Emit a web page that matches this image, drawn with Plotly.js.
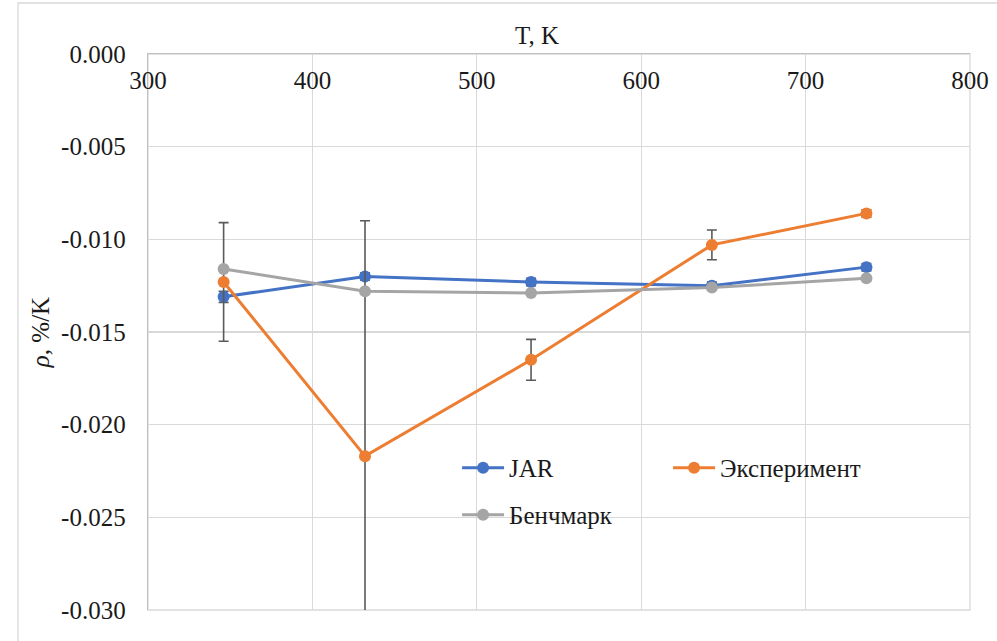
<!DOCTYPE html>
<html>
<head>
<meta charset="utf-8">
<script src="https://cdn.plot.ly/plotly-3.0.1.min.js"></script>
<style>
  html, body { margin: 0; padding: 0; background: #ffffff; }
  #chart { width: 997px; height: 641px; }
</style>
</head>
<body>
<div id="chart"></div>
<script>
// Temperature points, K
const temperatures = [346, 432, 533, 643, 737];

// Temperature coefficient ρ, %/K
const jarValues = [-0.0131, -0.0120, -0.0123, -0.0125, -0.0115];
const jarErrors = [0.0003, 0.0002, 0.0002, 0.0002, 0.0002];

const experimentValues = [-0.0123, -0.0217, -0.0165, -0.0103, -0.0086];
const experimentErrors = [0.0032, 0.0127, 0.0011, 0.0008, 0.0002];

const benchmarkValues = [-0.0116, -0.0128, -0.0129, -0.0126, -0.0121];

const seriesNames = ['JAR', 'Эксперимент', 'Бенчмарк'];
const seriesColors = ['#4472C4', '#ED7D31', '#A5A5A5'];

const xTicks = [300, 400, 500, 600, 700, 800];
const yTicks = [0, -0.005, -0.010, -0.015, -0.020, -0.025, -0.030];

const FONT = 'Liberation Serif';
const FONT_SIZE = 25;
const TEXT_COLOR = '#1a1a1a';
const ERR_COLOR = '#5a5a5a';

function series(name, color, values, errors, legend) {
  const t = {
    type: 'scatter',
    mode: 'lines+markers',
    name: name,
    x: temperatures,
    y: values,
    legend: legend,
    line: { color: color, width: 3 },
    marker: { color: color, size: 12, symbol: 'circle' },
    cliponaxis: true
  };
  if (errors) {
    t.error_y = {
      type: 'data', array: errors, visible: true,
      color: ERR_COLOR, thickness: 1.6, width: 5
    };
  }
  return t;
}

const traces = [
  series(seriesNames[0], seriesColors[0], jarValues, jarErrors, 'legend'),
  series(seriesNames[1], seriesColors[1], experimentValues, experimentErrors, 'legend'),
  series(seriesNames[2], seriesColors[2], benchmarkValues, null, 'legend2')
];

const legendCommon = {
  orientation: 'h',
  bgcolor: 'rgba(0,0,0,0)',
  borderwidth: 0,
  font: { family: FONT, size: FONT_SIZE, color: TEXT_COLOR },
  itemwidth: 42,
  entrywidth: 154,
  entrywidthmode: 'pixels',
  xanchor: 'left',
  yanchor: 'middle',
  tracegroupgap: 0
};

const layout = {
  width: 997,
  height: 641,
  margin: { l: 148, r: 27, t: 54, b: 31 },
  paper_bgcolor: '#ffffff',
  plot_bgcolor: '#ffffff',
  font: { family: FONT, size: FONT_SIZE, color: TEXT_COLOR },
  showlegend: true,
  title: {
    text: 'T, K',
    font: { family: FONT, size: FONT_SIZE, color: TEXT_COLOR },
    x: 537 / 997, xanchor: 'center', xref: 'container',
    y: 1 - 35 / 641, yanchor: 'middle', yref: 'container'
  },
  xaxis: {
    side: 'top',
    range: [300, 800],
    tickvals: xTicks,
    ticktext: xTicks.map(String),
    ticks: '',
    ticklabelposition: 'inside',
    ticklabeloverflow: 'allow',
    ticklabelstandoff: 19,
    showgrid: true,
    gridcolor: '#d9d9d9',
    gridwidth: 1.3,
    zeroline: false,
    showline: true,
    linecolor: '#bfbfbf',
    linewidth: 1.3,
    tickfont: { family: FONT, size: FONT_SIZE, color: TEXT_COLOR },
    fixedrange: true
  },
  yaxis: {
    range: [-0.030, 0],
    tickvals: yTicks,
    ticktext: yTicks.map(v => v.toFixed(3)),
    ticks: '',
    ticklabelstandoff: 16,
    showgrid: true,
    gridcolor: '#d9d9d9',
    gridwidth: 1.3,
    zeroline: false,
    showline: true,
    linecolor: '#bfbfbf',
    linewidth: 1.3,
    tickfont: { family: FONT, size: FONT_SIZE, color: TEXT_COLOR },
    title: {
      text: '<i>ρ</i>, %/K',
      font: { family: FONT, size: FONT_SIZE, color: TEXT_COLOR },
      standoff: 4
    },
    fixedrange: true
  },
  legend: Object.assign({}, legendCommon, { x: 0.376, y: 0.2554 }),
  legend2: Object.assign({}, legendCommon, { x: 0.376, y: 0.1709 }),
  shapes: [
    // outer chart frame
    {
      type: 'rect', xref: 'paper', yref: 'paper',
      x0: -130 / 822, x1: 1.1, y0: -0.2, y1: (610 - 3) / 556,
      line: { color: '#d9d9d9', width: 1.3 }, fillcolor: 'rgba(0,0,0,0)', layer: 'below'
    },
    // right and bottom edges of the plot area
    {
      type: 'rect', xref: 'paper', yref: 'paper',
      x0: 0, x1: 1, y0: 0, y1: 1,
      line: { color: '#d9d9d9', width: 1.3 }, fillcolor: 'rgba(0,0,0,0)', layer: 'below'
    }
  ]
};

Plotly.newPlot('chart', traces, layout, { displayModeBar: false, staticPlot: true });
</script>
</body>
</html>
